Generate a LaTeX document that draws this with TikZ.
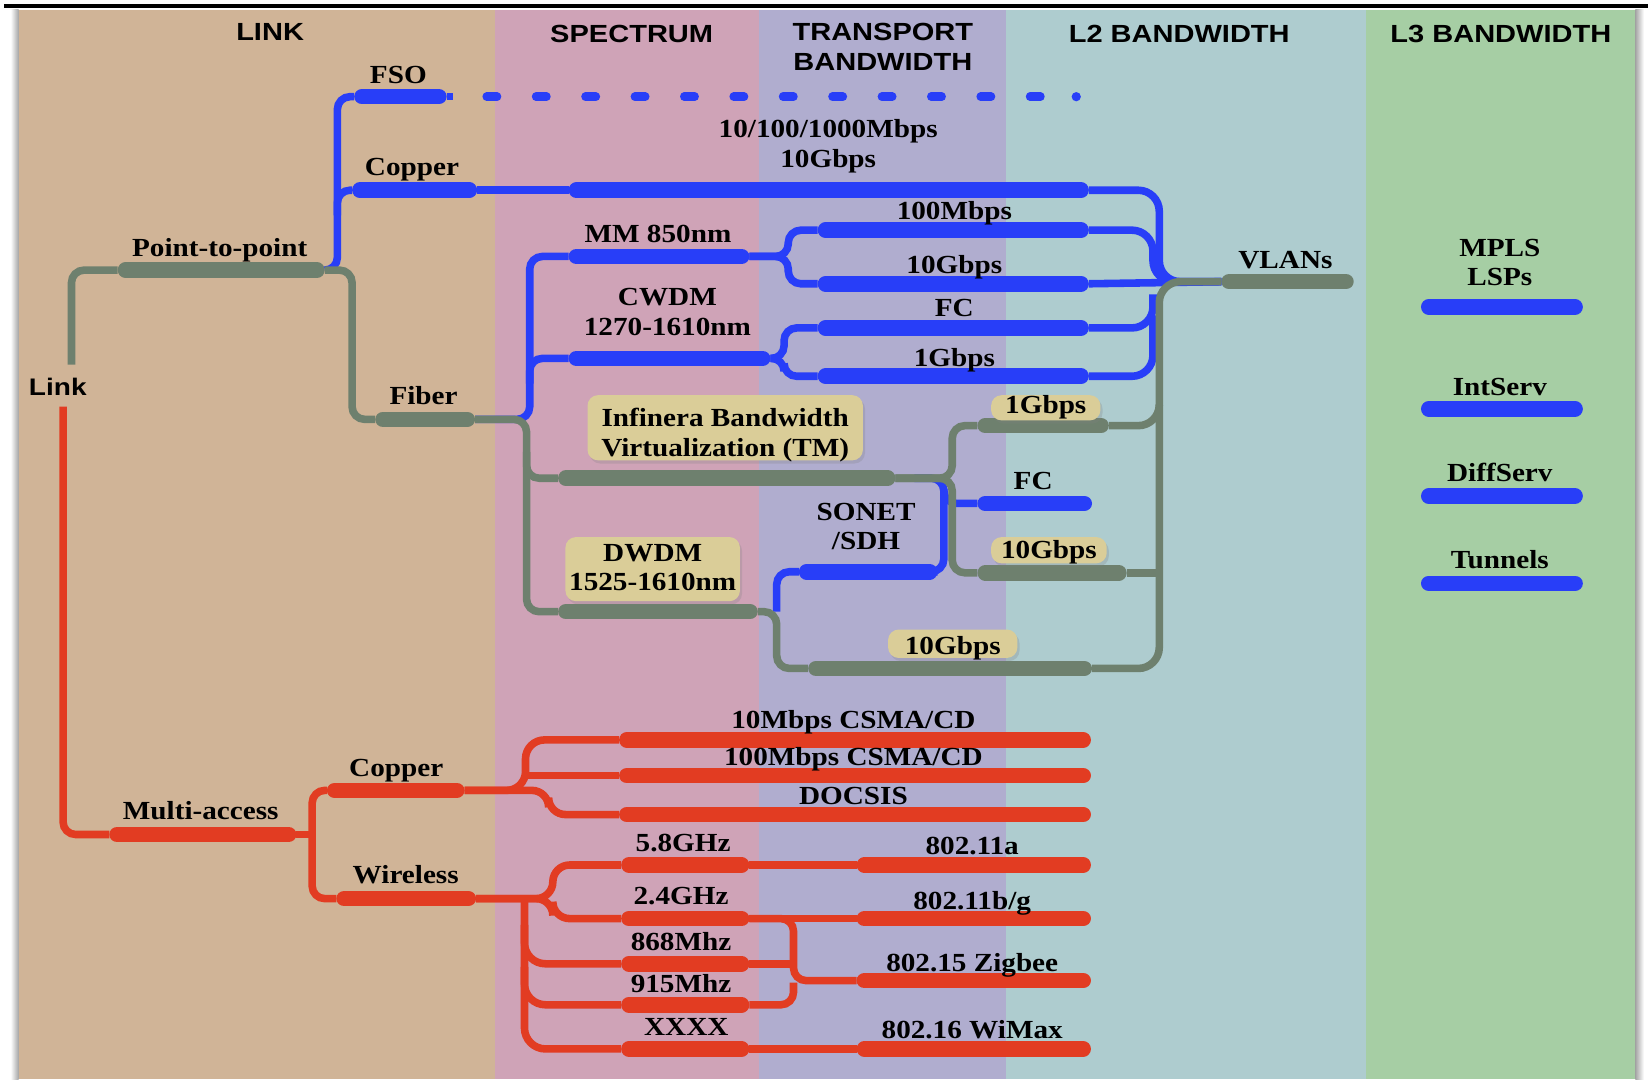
\documentclass[tikz,border=0pt]{standalone}
\usepackage{fontspec}
\setmainfont{Liberation Serif}[FakeStretch=1.12]
\newfontfamily\hdrfont{Liberation Sans}[FakeStretch=1.17]
\usetikzlibrary{shadows}
\definecolor{cLink}{RGB}{208,180,151}
\definecolor{cSpec}{RGB}{207,163,183}
\definecolor{cTrans}{RGB}{176,173,207}
\definecolor{cLtwo}{RGB}{174,204,207}
\definecolor{cLthree}{RGB}{166,206,164}
\definecolor{cGray}{RGB}{110,128,110}
\definecolor{cBlue}{RGB}{40,62,248}
\definecolor{cRed}{RGB}{226,60,34}
\definecolor{cBox}{RGB}{218,205,152}
\newcommand\defseg[4]{\coordinate (#1-a) at (#2,#4); \coordinate (#1-b) at (#3,#4);}
\tikzset{
 gthin/.style={draw=cGray,line width=3.6pt,rounded corners=6pt},
 bthin/.style={draw=cBlue,line width=3.6pt,rounded corners=6pt},
 rthin/.style={draw=cRed,line width=3.6pt,rounded corners=6pt},
 gthick/.style={draw=cGray,line width=7.4pt,line cap=round},
 bthick/.style={draw=cBlue,line width=7.4pt,line cap=round},
 rthick/.style={draw=cRed,line width=7.4pt,line cap=round},
 bdash/.style={draw=cBlue,line width=4pt,line cap=round,dash pattern=on 5pt off 18.5pt},
 lbl/.style={inner sep=0pt,anchor=base,align=center,font=\bfseries\fontsize{12.4}{14}\selectfont},
 hdr/.style={inner sep=0pt,anchor=base,align=center,font=\hdrfont\bfseries\fontsize{11.8}{14}\selectfont},
 tagbox/.style={fill=cBox,rounded corners=5pt,inner sep=0pt,align=center,
   font=\bfseries\fontsize{12.4}{14}\selectfont,
   drop shadow={shadow xshift=1pt,shadow yshift=-1.5pt,opacity=0.25}},
}
\begin{document}
\begin{tikzpicture}[x=0.5pt,y=-0.5pt]
\useasboundingbox (0,0) rectangle (1568,1027);
\fill[white] (0,0) rectangle (1568,1027);
% page
\shade[left color=white,right color=black!35] (10,9.5) rectangle (17.7,1027);
\shade[left color=black!35,right color=white] (1556,9.5) rectangle (1564,1027);
\fill[cLink] (17.7,9.5) rectangle (471,1027);
\fill[cSpec] (471,9.5) rectangle (722,1027);
\fill[cTrans] (722,9.5) rectangle (957,1027);
\fill[cLtwo] (957,9.5) rectangle (1300,1027);
\fill[cLthree] (1300,9.5) rectangle (1556,1027);
\draw[line width=2pt] (4,6) -- (1568,6);
% headers
\node[hdr] (hLink) at (257,39) {LINK};
\node[hdr] (hSpec) at (601,40) {SPECTRUM};
\node[hdr] (hTrans) at (840,67) {TRANSPORT\\BANDWIDTH};
\node[hdr] (hLtwo) at (1122,40) {L2 BANDWIDTH};
\node[hdr] (hLthree) at (1428,40) {L3 BANDWIDTH};
% segments
\defseg{p2p}{112}{309}{257}
\defseg{fib}{357}{452}{399}
\defseg{inf}{531}{852}{455}
\defseg{dw}{531}{721}{582}
\defseg{gbone}{930}{1055}{405}
\defseg{gbten}{930}{1072}{545}
\defseg{bot}{769}{1039}{636}
\defseg{vlan}{1162}{1288}{268}
\defseg{fso}{337}{425}{92}
\defseg{cop}{335}{454}{181}
\defseg{coptwo}{541}{1036}{181}
\defseg{mm}{541}{713}{244}
\defseg{cw}{541}{733}{341}
\defseg{mhundred}{778}{1036}{219}
\defseg{gten}{778}{1036}{270}
\defseg{fc}{778}{1036}{312}
\defseg{gone}{778}{1036}{358}
\defseg{bfc}{930}{1039}{479}
\defseg{son}{760}{892}{544}
\defseg{mpls}{1352}{1506}{292}
\defseg{intserv}{1352}{1506}{389}
\defseg{diffserv}{1352}{1506}{472}
\defseg{tunnels}{1352}{1506}{555}
\defseg{ma}{104}{282}{794}
\defseg{rcop}{311}{442}{752}
\defseg{wir}{320}{453}{855}
\defseg{cten}{589}{1038}{704}
\defseg{chundred}{589}{1038}{738}
\defseg{doc}{589}{1038}{775}
\defseg{gfive}{591}{713}{823}
\defseg{aelf}{815}{1038}{823}
\defseg{gtwo}{591}{713}{874}
\defseg{bg}{815}{1038}{874}
\defseg{meight}{591}{713}{917}
\defseg{zig}{815}{1038}{933}
\defseg{mnine}{591}{713}{956}
\defseg{xxxx}{591}{713}{998}
\defseg{wimax}{815}{1038}{998}
\coordinate (linkTop) at (68,347);
\coordinate (linkRed) at (60,387);
\coordinate (dashA) at (463,92);
\coordinate (dashB) at (1000,92);
\coordinate (dashDot) at (1024,92);
% blue thin
\draw[bthin] (p2p-b) -- (321,257) -- (321,92) -- (fso-a);
\draw[bthin] (321,205) -- (321,181) -- (cop-a);
\draw[bthin] (fso-b) -- ++(6,0);
\draw[bdash] (dashA) -- (dashB);
\fill[cBlue] (dashDot) circle (2.2pt);
\draw[bthin] (cop-b) -- (coptwo-a);
\draw[bthin,rounded corners=10pt] (coptwo-b) -- (1103,181) -- (1103,268) -- (vlan-a);
\draw[bthin] (fib-b) -- (504,399) -- (504,244) -- (mm-a);
\draw[bthin] (504,365) -- (504,341) -- (cw-a);
\draw[bthin] (mm-b) -- (750,244) -- (750,219) -- (mhundred-a);
\draw[bthin] (mm-b) -- (750,244) -- (750,270) -- (gten-a);
\draw[bthin] (cw-b) -- (746,341) -- (746,312) -- (fc-a);
\draw[bthin] (cw-b) -- (746,341) -- (746,358) -- (gone-a);
\draw[bthin,rounded corners=10pt] (mhundred-b) -- (1097,219) -- (1097,268) -- (vlan-a);
\draw[bthin] (gten-b) -- (vlan-a);
\draw[bthin,rounded corners=10pt] (fc-b) -- (1097,312) -- (1097,280);
\draw[bthin,rounded corners=10pt] (gone-b) -- (1097,358) -- (1097,300);
\draw[bthin] (son-a) -- (739,544) -- (739,582);
\draw[bthin] (son-b) -- (898,544) -- (898,455) -- (870,455);
\draw[bthin] (898,465) -- (898,479) -- (bfc-a);
% gray thin
\draw[gthin] (linkTop) -- (68,257) -- (p2p-a);
\draw[gthin] (p2p-b) -- (335,257) -- (335,399) -- (fib-a);
\draw[gthin] (fib-b) -- (501,399) -- (501,582) -- (dw-a);
\draw[gthin] (501,430) -- (501,455) -- (inf-a);
\draw[gthin] (inf-b) -- (906,455) -- (906,405) -- (gbone-a);
\draw[gthin] (inf-b) -- (906,455) -- (906,545) -- (gbten-a);
\draw[gthin] (dw-b) -- (739,582) -- (739,636) -- (bot-a);
\draw[gthin,rounded corners=10pt] (bot-b) -- (1103,636) -- (1103,268) -- (vlan-a);
\draw[gthin,rounded corners=10pt] (gbone-b) -- (1103,405) -- (1103,385);
\draw[gthin] (gbten-b) -- (1103,545);
% red thin
\draw[rthin] (linkRed) -- (60,794) -- (ma-a);
\draw[rthin] (ma-b) -- (297,794);
\draw[rthin] (rcop-a) -- (297,752) -- (297,855) -- (wir-a);
\draw[rthin,rounded corners=9pt] (rcop-b) -- (500,752) -- (500,704) -- (cten-a);
\draw[rthin] (500,738) -- (chundred-a);
\draw[rthin,rounded corners=8pt] (rcop-b) -- (522,752) -- (522,775) -- (doc-a);
\draw[rthin,rounded corners=8pt] (wir-b) -- (526,855) -- (526,823) -- (gfive-a);
\draw[rthin,rounded corners=8pt] (wir-b) -- (526,855) -- (526,874) -- (gtwo-a);
\draw[rthin,rounded corners=10pt] (499,855) -- (499,998) -- (xxxx-a);
\draw[rthin,rounded corners=10pt] (499,880) -- (499,917) -- (meight-a);
\draw[rthin,rounded corners=10pt] (499,920) -- (499,956) -- (mnine-a);
\draw[rthin] (gfive-b) -- (aelf-a);
\draw[rthin] (gtwo-b) -- (bg-a);
\draw[rthin] (xxxx-b) -- (wimax-a);
\draw[rthin] (gtwo-b) -- (755,874) -- (755,933) -- (zig-a);
\draw[rthin] (meight-b) -- (755,917);
\draw[rthin] (mnine-b) -- (755,956) -- (755,935);
% thick segments
\foreach \s in {p2p,fib,inf,dw,gbone,gbten,bot,vlan}
  \draw[gthick] ([xshift=3.7pt]\s-a) -- ([xshift=-3.7pt]\s-b);
\foreach \s in {fso,cop,coptwo,mm,cw,mhundred,gten,fc,gone,bfc,son,mpls,intserv,diffserv,tunnels}
  \draw[bthick] ([xshift=3.7pt]\s-a) -- ([xshift=-3.7pt]\s-b);
\foreach \s in {ma,rcop,wir,cten,chundred,doc,gfive,aelf,gtwo,bg,meight,zig,mnine,xxxx,wimax}
  \draw[rthick] ([xshift=3.7pt]\s-a) -- ([xshift=-3.7pt]\s-b);
% boxes
\node[tagbox,minimum width=131pt,minimum height=31pt,text height=29pt,text depth=2pt] (bInf) at (690,407) {Infinera Bandwidth\\Virtualization (TM)};
\node[tagbox,minimum width=83pt,minimum height=30.5pt,text height=25.5pt,text depth=5pt] (bDw) at (621,541.5) {DWDM\\1525-1610nm};
\node[tagbox,minimum width=52pt,minimum height=12pt,text height=8.5pt,text depth=3.5pt] (bOne) at (995,388) {1Gbps};
\node[tagbox,minimum width=55pt,minimum height=12.5pt,text height=10pt,text depth=2.5pt] (bTen) at (998,523.5) {10Gbps};
\node[tagbox,minimum width=61.5pt,minimum height=13.5pt,text height=12pt,text depth=1.5pt] (bBot) at (906.5,612.5) {10Gbps};
% labels
\node[hdr,font=\hdrfont\bfseries\fontsize{11.4}{14}\selectfont] (tLink) at (55,376) {Link};
\node[lbl] (tFso) at (379,79) {FSO};
\node[lbl] (tCop) at (392,167) {Copper};
\node[lbl] (tP2p) at (209,244) {Point-to-point};
\node[lbl] (tFib) at (403,385) {Fiber};
\node[lbl] (tCopBw) at (788,159) {10/100/1000Mbps\\10Gbps};
\node[lbl] (tMm) at (626,231) {MM 850nm};
\node[lbl] (tCw) at (635,319) {CWDM\\1270-1610nm};
\node[lbl] (tHundred) at (908,209) {100Mbps};
\node[lbl] (tTen) at (908,260) {10Gbps};
\node[lbl] (tFc) at (908,301) {FC};
\node[lbl] (tOne) at (908,349) {1Gbps};
\node[lbl] (tVlan) at (1223,255) {VLANs};
\node[lbl] (tMpls) at (1427,272) {MPLS\\LSPs};
\node[lbl] (tInt) at (1427,376) {IntServ};
\node[lbl] (tDiff) at (1427,458) {DiffServ};
\node[lbl] (tTun) at (1427,541) {Tunnels};
\node[lbl] (tFcT) at (983,466) {FC};
\node[lbl] (tSon) at (824,523) {SONET\\/SDH};
\node[lbl] (tMa) at (191,780) {Multi-access};
\node[lbl] (tRcop) at (377,739) {Copper};
\node[lbl] (tWir) at (386,841) {Wireless};
\node[lbl] (tCten) at (812,693) {10Mbps CSMA/CD};
\node[lbl] (tChun) at (812,728) {100Mbps CSMA/CD};
\node[lbl] (tDoc) at (812,765) {DOCSIS};
\node[lbl] (tGfive) at (650,810) {5.8GHz};
\node[lbl] (tGtwo) at (648,861) {2.4GHz};
\node[lbl] (tMeight) at (648,904) {868Mhz};
\node[lbl] (tMnine) at (648,944) {915Mhz};
\node[lbl] (tX) at (653,985) {XXXX};
\node[lbl] (tA) at (925,813) {802.11a};
\node[lbl] (tBg) at (925,865) {802.11b/g};
\node[lbl] (tZig) at (925,924) {802.15 Zigbee};
\node[lbl] (tWimax) at (925,988) {802.16 WiMax};
\end{tikzpicture}
\end{document}
